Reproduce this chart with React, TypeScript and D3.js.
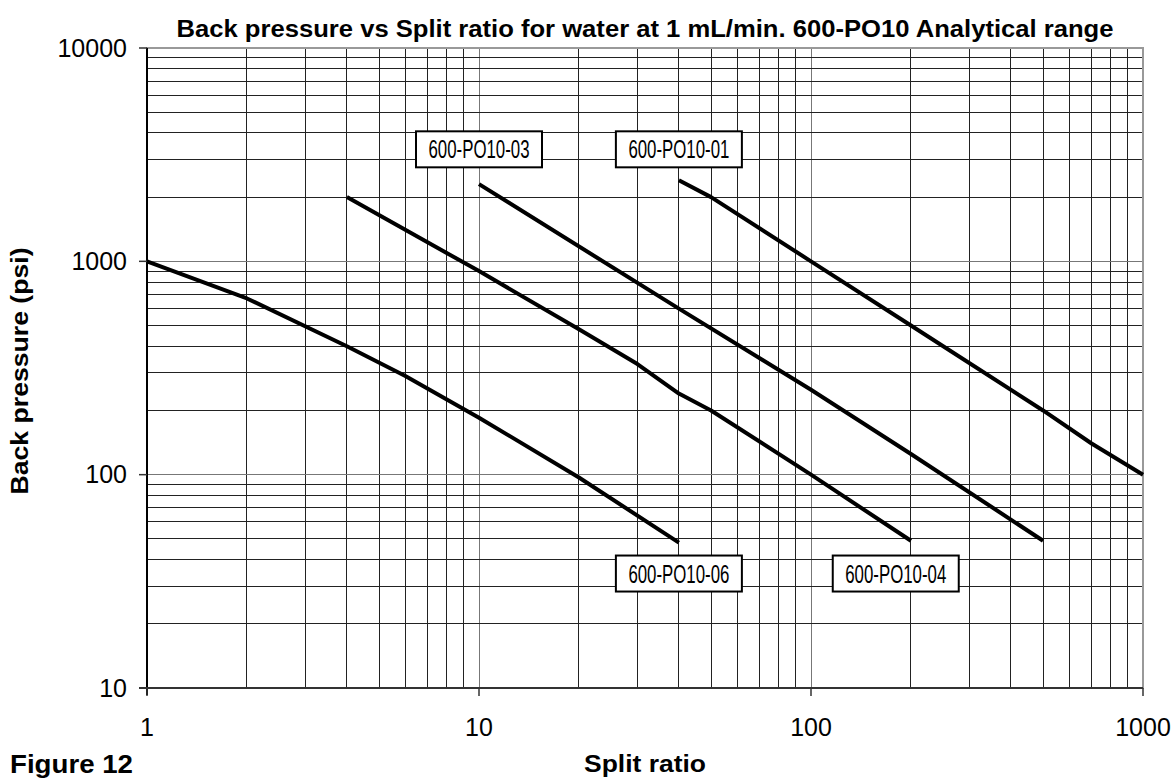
import React from 'react'
import * as d3 from 'd3'

// split ratio vs back pressure (psi)
const po1006 = [[1, 1000], [2, 670], [4, 400], [6, 290], [10, 185], [20, 97], [40, 48]]
const po1003 = [[4, 2000], [10, 900], [20, 480], [30, 330], [40, 240], [50, 200], [100, 100], [200, 49]]
const po1004 = [[10, 2300], [40, 600], [100, 250], [200, 125], [500, 49]]
const po1001 = [[40, 2400], [50, 2000], [100, 1000], [200, 500], [500, 200], [700, 140], [1000, 100]]

const series = [po1006, po1003, po1004, po1001]

// label boxes, centred in data coordinates
const labels = [
  { text: '600-PO10-03', x: 10, y: 3350 },
  { text: '600-PO10-01', x: 40, y: 3350 },
  { text: '600-PO10-06', x: 40, y: 34.4 },
  { text: '600-PO10-04', x: 180, y: 34.4 },
]

const xTicks = [1, 10, 100, 1000]
const yTicks = [10, 100, 1000, 10000]

const W = 1173, H = 779
const left = 147, right = 1143, top = 48, bottom = 688

export default function App() {
  const x = d3.scaleLog().domain([1, 1000]).range([left, right])
  const y = d3.scaleLog().domain([10, 10000]).range([bottom, top])

  const xGrid = x.ticks().filter(v => v > 1 && v < 1000)
  const yGrid = y.ticks().filter(v => v > 10 && v < 10000)

  const line = d3.line<number[]>()
    .x(d => x(d[0]))
    .y(d => y(d[1]))

  const font = 'Arial, "Liberation Sans", sans-serif'

  return (
    <svg width={W} height={H} style={{ position: 'absolute', left: 0, top: 0, background: '#fff' }}
      fontFamily={font}>
      <text x={645} y={37} textAnchor="middle" fontWeight="bold" fontSize={23}
        textLength={937} lengthAdjust="spacingAndGlyphs">
        Back pressure vs Split ratio for water at 1 mL/min. 600-PO10 Analytical range
      </text>

      {/* grid */}
      <g stroke="#222" strokeWidth={1} shapeRendering="crispEdges">
        {xGrid.map(v => (
          <line key={'x' + v} x1={x(v)} x2={x(v)} y1={top} y2={bottom}
            stroke={String(v).startsWith('1') ? '#777' : '#222'} />
        ))}
        {yGrid.map(v => (
          <line key={'y' + v} x1={left} x2={right} y1={y(v)} y2={y(v)}
            stroke={String(v).startsWith('1') ? '#777' : '#222'} />
        ))}
      </g>
      <rect x={left} y={top} width={right - left} height={bottom - top} fill="none"
        stroke="#999" strokeWidth={1.5} shapeRendering="crispEdges" />
      <line x1={left} x2={left} y1={top} y2={bottom + 7} stroke="#000" strokeWidth={1.5} shapeRendering="crispEdges" />
      <line x1={left - 8} x2={right} y1={bottom} y2={bottom} stroke="#333" strokeWidth={1.5} shapeRendering="crispEdges" />

      {/* ticks */}
      {yTicks.map(v => (
        <g key={'yt' + v}>
          <line x1={left - 8} x2={left} y1={y(v)} y2={y(v)} stroke="#333" strokeWidth={1.5} />
          <text x={left - 20} y={y(v)} dy="0.35em" textAnchor="end" fontSize={25}>{v}</text>
        </g>
      ))}
      {xTicks.map(v => (
        <g key={'xt' + v}>
          <line x1={x(v)} x2={x(v)} y1={bottom} y2={bottom + 8} stroke="#333" strokeWidth={1.5} />
          <text x={x(v)} y={bottom + 48} textAnchor="middle" fontSize={25}>{v}</text>
        </g>
      ))}

      {/* curves */}
      {series.map((s, i) => (
        <path key={i} d={line(s) || ''} fill="none" stroke="#000" strokeWidth={4} strokeLinejoin="round" />
      ))}

      {/* labels */}
      {labels.map(l => (
        <g key={l.text} transform={`translate(${x(l.x)},${y(l.y)})`}>
          <rect x={-63} y={-18} width={126} height={36} fill="#fff" stroke="#000" strokeWidth={2} />
          <text x={0} y={0} dy="0.36em" textAnchor="middle" fontSize={25}
            textLength={101} lengthAdjust="spacingAndGlyphs">{l.text}</text>
        </g>
      ))}

      <text transform={`translate(28,${(top + bottom) / 2 + 3}) rotate(-90)`} textAnchor="middle"
        fontWeight="bold" fontSize={24} textLength={247} lengthAdjust="spacingAndGlyphs">
        Back pressure (psi)
      </text>
      <text x={645} y={772} textAnchor="middle" fontWeight="bold" fontSize={24}
        textLength={122} lengthAdjust="spacingAndGlyphs">Split ratio</text>
      <text x={10} y={773} fontWeight="bold" fontSize={25}
        textLength={123} lengthAdjust="spacingAndGlyphs">Figure 12</text>
    </svg>
  )
}
